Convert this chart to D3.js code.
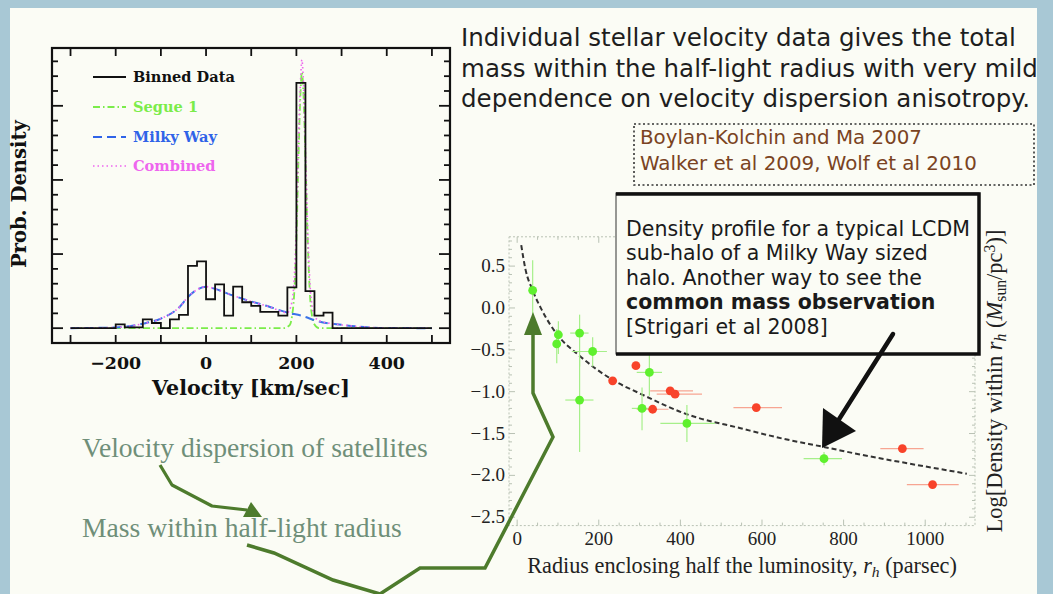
<!DOCTYPE html>
<html><head><meta charset="utf-8">
<script src="https://cdn.jsdelivr.net/npm/d3@7"></script>
<style>html,body{margin:0;padding:0;background:#a8c8d5;overflow:hidden}svg{display:block}</style>
</head><body><svg id="c" width="1053" height="594"></svg>
<script>
// ---------- DATA: left panel (velocity histogram) ----------
const velTicks = [-200, 0, 200, 400];
const velTickLabels = ["\u2212200", "0", "200", "400"];
const binWidth = 20;
const binLefts = [-200,-180,-160,-140,-120,-100,-80,-60,-40,-20,0,20,40,60,80,100,120,140,160,180,200,220,240,260];
const binHeights = [0.05,0.01,0.01,0.12,0.07,0,0.12,0.18,0.84,0.90,0.39,0.59,0.17,0.56,0.35,0.30,0.22,0.22,0.17,0.55,3.31,0.50,0.17,0.21];
const mwVel  = [-300,-200,-140,-100,-58,-40,-17,0,20,60,100,140,180,210,250,300,350,400,500];
const mwDens = [0,0.01,0.06,0.13,0.29,0.42,0.53,0.56,0.53,0.44,0.36,0.29,0.21,0.17,0.09,0.045,0.015,0.003,0];
const segVel  = [-300,170,185,190,195,200,205,210,212,215,220,225,230,235,240,250,500];
const segDens = [0,0,0.04,0.15,0.45,1.2,2.4,3.3,3.45,3.25,2.3,1.2,0.45,0.15,0.05,0.0,0];
const combVel  = [-300,-200,-140,-100,-58,-40,-17,0,20,60,100,140,180,190,195,200,205,210,212,215,220,225,230,235,240,250,300,350,400,500];
const combDens = [0,0.01,0.06,0.13,0.29,0.42,0.53,0.56,0.53,0.44,0.36,0.29,0.21,0.35,0.65,1.4,2.6,3.45,3.62,3.4,2.45,1.33,0.6,0.28,0.17,0.10,0.045,0.015,0.003,0];
const legendLabels = ["Binned Data", "Segue 1", "Milky Way", "Combined"];

// ---------- DATA: right panel (density vs radius) ----------
const rTicks = [0, 200, 400, 600, 800, 1000];
const logTicks = [0.5, 0.0, -0.5, -1.0, -1.5, -2.0, -2.5];
const greenR      = [38, 101, 97, 153, 185, 153, 324, 306, 416, 752];
const greenLog    = [0.21, -0.32, -0.43, -0.30, -0.52, -1.10, -0.77, -1.20, -1.38, -1.80];
const greenRLo    = [33, 92, 88, 130, 134, 118, 293, 281, 351, 702];
const greenRHi    = [43, 110, 106, 175, 220, 187, 355, 330, 485, 796];
const greenLogLo  = [-0.10, -0.55, -0.66, -0.70, -0.70, -1.72, -1.05, -1.46, -1.60, -1.88];
const greenLogHi  = [0.57, -0.16, -0.25, -0.08, -0.35, -0.60, -0.50, -0.95, -1.16, -1.72];
const redR        = [234, 291, 375, 387, 332, 586, 944, 1018];
const redLog      = [-0.87, -0.69, -0.99, -1.03, -1.21, -1.19, -1.68, -2.11];
const redRLo      = [225, 282, 326, 342, 293, 530, 890, 955];
const redRHi      = [245, 300, 431, 453, 371, 649, 996, 1082];
const redLogLo    = [-0.90, -0.72, -1.02, -1.06, -1.24, -1.22, -1.71, -2.14];
const redLogHi    = [-0.84, -0.66, -0.96, -1.00, -1.18, -1.16, -1.65, -2.08];
const profileR    = [10, 20, 38, 60, 100, 150, 234, 300, 416, 550, 650, 751, 850, 950, 1102];
const profileLog  = [0.75, 0.47, 0.21, -0.02, -0.33, -0.56, -0.86, -1.02, -1.27, -1.44, -1.56, -1.66, -1.76, -1.85, -1.98];

// ---------- TEXT ----------
const titleLines = ["Individual stellar velocity data gives the total",
  "mass within the half-light radius with very mild",
  "dependence on velocity dispersion anisotropy."];
const citeLines = ["Boylan-Kolchin and Ma 2007", "Walker et al 2009, Wolf et al 2010"];
const boxLines = ["Density profile for a typical LCDM", "sub-halo of a Milky Way sized",
  "halo. Another way to see the", "common mass observation", "[Strigari et al 2008]"];
const noteLines = ["Velocity dispersion of satellites", "Mass within half-light radius"];

const svg = d3.select("#c");
function fit(sel, w) { sel.attr("font-size", 100); const L = sel.node().getComputedTextLength(); const fs = 100 * w / L; sel.attr("font-size", fs); return fs; }

// background card
svg.append("rect").attr("x", 0).attr("y", 0).attr("width", 1053).attr("height", 594).attr("fill", "#a8c8d5");
svg.append("rect").attr("x", 10).attr("y", 8).attr("width", 1027).attr("height", 600).attr("fill", "#fbfcf5");

// ================= LEFT PANEL =================
const xL = d3.scaleLinear().domain([-341, 540]).range([52, 450]);
const yL = d3.scaleLinear().domain([-0.2, 3.78]).range([343, 48]);
const gL = svg.append("g");
const lineL = d3.line().x(d => xL(d[0])).y(d => yL(d[1]));
const smoothL = d3.line().x(d => xL(d[0])).y(d => yL(d[1])).curve(d3.curveMonotoneX);

gL.append("path").attr("d", smoothL(segVel.map((v, i) => [v, segDens[i]])))
  .attr("fill", "none").attr("stroke", "#7bec4a").attr("stroke-width", 1.8).attr("stroke-dasharray", "7,3,1.5,3");
gL.append("path").attr("d", smoothL(mwVel.map((v, i) => [v, mwDens[i]])))
  .attr("fill", "none").attr("stroke", "#3a73e8").attr("stroke-width", 2).attr("stroke-dasharray", "9,5");
gL.append("path").attr("d", smoothL(combVel.map((v, i) => [v, combDens[i]])))
  .attr("fill", "none").attr("stroke", "#ee66ee").attr("stroke-width", 1.6).attr("stroke-dasharray", "1.5,3");
const stepPts = [[-300, 0], [binLefts[0], 0]];
binLefts.forEach((l, i) => { stepPts.push([l, binHeights[i]], [l + binWidth, binHeights[i]]); });
stepPts.push([binLefts[binLefts.length - 1] + binWidth, 0], [500, 0]);
gL.append("path").attr("d", lineL(stepPts)).attr("fill", "none").attr("stroke", "#111").attr("stroke-width", 1.8);

// frame + ticks
gL.append("rect").attr("x", 52).attr("y", 48).attr("width", 398).attr("height", 295)
  .attr("fill", "none").attr("stroke", "#111").attr("stroke-width", 2.2);
const xTicksAll = d3.range(-300, 501, 100);
xTicksAll.forEach(v => {
  gL.append("line").attr("x1", xL(v)).attr("x2", xL(v)).attr("y1", 48).attr("y2", 56).attr("stroke", "#111").attr("stroke-width", 1.8);
  gL.append("line").attr("x1", xL(v)).attr("x2", xL(v)).attr("y1", 343).attr("y2", 335).attr("stroke", "#111").attr("stroke-width", 1.8);
});
d3.range(0, 3.78, 0.2).forEach(d => {
  const major = Math.abs(d - Math.round(d)) < 1e-6;
  const len = major ? 11 : 6;
  gL.append("line").attr("x1", 52).attr("x2", 52 + len).attr("y1", yL(d)).attr("y2", yL(d)).attr("stroke", "#111").attr("stroke-width", 1.8);
  gL.append("line").attr("x1", 450).attr("x2", 450 - len).attr("y1", yL(d)).attr("y2", yL(d)).attr("stroke", "#111").attr("stroke-width", 1.8);
});
const pgFont = "DejaVu Serif";
let tfs = null;
velTicks.forEach((v, i) => {
  const t = gL.append("text").attr("x", xL(v)).attr("y", 369).attr("text-anchor", "middle")
    .attr("font-family", pgFont).attr("font-weight", "bold").attr("fill", "#111").text(velTickLabels[i]);
  if (i === 0) tfs = fit(t, 51); else t.attr("font-size", tfs);
});
fit(gL.append("text").attr("x", 251).attr("y", 395).attr("text-anchor", "middle")
  .attr("font-family", pgFont).attr("font-weight", "bold").attr("fill", "#111").text("Velocity [km/sec]"), 198);
fit(gL.append("text").attr("transform", "translate(26,194) rotate(-90)").attr("text-anchor", "middle")
  .attr("font-family", pgFont).attr("font-weight", "bold").attr("fill", "#111").text("Prob. Density"), 148);

// legend
const legColors = ["#111", "#7bec4a", "#2f63e8", "#ee66ee"];
const legDash = [null, "7,3,1.5,3", "9,5", "1.5,3"];
const legY = [77, 107, 137, 166];
let lfs = null;
legendLabels.forEach((lab, i) => {
  const ln = gL.append("line").attr("x1", 93).attr("x2", 126).attr("y1", legY[i]).attr("y2", legY[i])
    .attr("stroke", legColors[i]).attr("stroke-width", i === 3 ? 1.6 : 1.8);
  if (legDash[i]) ln.attr("stroke-dasharray", legDash[i]);
  const t = gL.append("text").attr("x", 133).attr("y", legY[i] + 5).attr("font-family", pgFont)
    .attr("font-weight", "bold").attr("fill", legColors[i]).text(lab);
  if (i === 0) lfs = fit(t, 102); else t.attr("font-size", lfs);
});

// ================= RIGHT PANEL =================
const xR = d3.scaleLinear().domain([-20, 1122]).range([509, 975]);
const yR = d3.scaleLinear().domain([-2.6, 0.85]).range([525.6, 236.8]);
const gR = svg.append("g");
gR.append("rect").attr("x", 509).attr("y", 236.8).attr("width", 466).attr("height", 288.8)
  .attr("fill", "none").attr("stroke", "#b9c2b4").attr("stroke-width", 1).attr("stroke-dasharray", "2,2");
d3.range(0, 1101, 50).forEach(v => {
  const len = v % 200 === 0 ? 6 : 3;
  gR.append("line").attr("x1", xR(v)).attr("x2", xR(v)).attr("y1", 525.6).attr("y2", 525.6 - len).attr("stroke", "#b9c2b4");
  gR.append("line").attr("x1", xR(v)).attr("x2", xR(v)).attr("y1", 236.8).attr("y2", 236.8 + len).attr("stroke", "#b9c2b4");
});
d3.range(-25, 9, 1).forEach(k => {
  const v = k / 10; const len = k % 5 === 0 ? 6 : 3;
  gR.append("line").attr("x1", 509).attr("x2", 509 + len).attr("y1", yR(v)).attr("y2", yR(v)).attr("stroke", "#b9c2b4");
  gR.append("line").attr("x1", 975).attr("x2", 975 - len).attr("y1", yR(v)).attr("y2", yR(v)).attr("stroke", "#b9c2b4");
});
const tnr = "Liberation Serif";
let rfs = null;
rTicks.forEach((v, i) => {
  const t = gR.append("text").attr("x", xR(v)).attr("y", 545).attr("text-anchor", "middle").attr("font-family", tnr).attr("fill", "#222").text(String(v));
  if (i === 5) { rfs = fit(t, 38); }
});
gR.selectAll("text").attr("font-size", rfs);
logTicks.forEach(v => {
  gR.append("text").attr("x", 505).attr("y", yR(v) + 6).attr("text-anchor", "end").attr("font-family", tnr)
    .attr("font-size", rfs).attr("fill", "#222").text(v.toFixed(1).replace("-", "\u2212"));
});
// x label
const xl = gR.append("text").attr("x", 742).attr("y", 573).attr("text-anchor", "middle").attr("font-family", tnr).attr("fill", "#222");
xl.append("tspan").text("Radius enclosing half the luminosity, ");
xl.append("tspan").attr("font-style", "italic").text("r");
xl.append("tspan").attr("font-style", "italic").attr("font-size", "70%").attr("dy", "0.25em").text("h");
xl.append("tspan").attr("dy", "-0.18em").text(" (parsec)");
fit(xl, 430);
// y label (right)
const yl = gR.append("text").attr("transform", "translate(1002,381) rotate(-90)").attr("text-anchor", "middle").attr("font-family", tnr).attr("fill", "#222");
yl.append("tspan").text("Log[Density within ");
yl.append("tspan").attr("font-style", "italic").text("r");
yl.append("tspan").attr("font-style", "italic").attr("font-size", "70%").attr("dy", "0.25em").text("h");
yl.append("tspan").attr("dy", "-0.18em").text(" (");
yl.append("tspan").attr("font-style", "italic").text("M");
yl.append("tspan").attr("font-size", "70%").attr("dy", "0.25em").text("sun");
yl.append("tspan").attr("dy", "-0.18em").text("/pc");
yl.append("tspan").attr("font-size", "70%").attr("dy", "-0.45em").text("3");
yl.append("tspan").attr("dy", "0.32em").text(")]");
fit(yl, 303);

// profile curve
gR.append("path").attr("d", d3.line().x((d, i) => xR(d)).y((d, i) => yR(profileLog[i])).curve(d3.curveMonotoneX)(profileR))
  .attr("fill", "none").attr("stroke", "#333").attr("stroke-width", 2).attr("stroke-dasharray", "5,3");
function errs(R, L, RLo, RHi, LLo, LHi, col) {
  R.forEach((r, i) => {
    gR.append("line").attr("x1", xR(RLo[i])).attr("x2", xR(RHi[i])).attr("y1", yR(L[i])).attr("y2", yR(L[i])).attr("stroke", col).attr("stroke-width", 1.2);
    gR.append("line").attr("x1", xR(r)).attr("x2", xR(r)).attr("y1", yR(LLo[i])).attr("y2", yR(LHi[i])).attr("stroke", col).attr("stroke-width", 1.2);
  });
}
errs(greenR, greenLog, greenRLo, greenRHi, greenLogLo, greenLogHi, "#a6ef8a");
errs(redR, redLog, redRLo, redRHi, redLogLo, redLogHi, "#f7a592");
gR.selectAll("circle.g").data(greenR).join("circle").attr("class", "g").attr("cx", d => xR(d)).attr("cy", (d, i) => yR(greenLog[i])).attr("r", 4.4).attr("fill", "#5ff02e");
gR.selectAll("circle.r").data(redR).join("circle").attr("class", "r").attr("cx", d => xR(d)).attr("cy", (d, i) => yR(redLog[i])).attr("r", 4.4).attr("fill", "#f8432a");

// ================= ANNOTATIONS =================
// text box
svg.append("rect").attr("x", 616).attr("y", 193).attr("width", 363).attr("height", 161).attr("fill", "#fbfcf5").attr("stroke", "#333").attr("stroke-width", 1);
svg.append("path").attr("d", "M616,194 H979 V354 H616").attr("fill", "none").attr("stroke", "#111").attr("stroke-width", 3.5);
let bfs = null;
boxLines.forEach((s, i) => {
  const t = svg.append("text").attr("x", 626).attr("y", 236 + i * 24.4).attr("font-family", "DejaVu Sans").attr("fill", "#1a1a1a").text(s);
  if (i === 3) t.attr("font-weight", "bold");
  if (i === 0) bfs = fit(t, 344); else t.attr("font-size", bfs);
});
// black arrow
svg.append("line").attr("x1", 893).attr("y1", 334).attr("x2", 836).attr("y2", 424).attr("stroke", "#111").attr("stroke-width", 4.5).attr("stroke-linecap", "round");
svg.append("polygon").attr("points", "822,448 823,408 856,431").attr("fill", "#111");

// title
let tfs2 = null;
titleLines.forEach((s, i) => {
  const t = svg.append("text").attr("x", 461).attr("y", 46 + i * 30.5).attr("font-family", "DejaVu Sans").attr("fill", "#1e1e1e").text(s);
  if (i === 0) tfs2 = fit(t, 555); else t.attr("font-size", tfs2);
});
// citation box
svg.append("rect").attr("x", 634).attr("y", 124).attr("width", 400).attr("height", 61).attr("fill", "none")
  .attr("stroke", "#333").attr("stroke-width", 1.6).attr("stroke-dasharray", "2,2.5");
let cfs = null;
[1, 0].forEach(i => {
  const t = svg.append("text").attr("x", 640).attr("y", 144 + i * 26).attr("font-family", "DejaVu Sans").attr("fill", "#7a4322").text(citeLines[i]);
  if (i === 1) cfs = fit(t, 337); else t.attr("font-size", cfs);
});

// green notes
let nfs = null;
noteLines.forEach((s, i) => {
  const t = svg.append("text").attr("x", 82).attr("y", 457 + i * 80).attr("font-family", "Liberation Serif").attr("fill", "#6f8f79").text(s);
  if (i === 0) nfs = fit(t, 346); else t.attr("font-size", nfs);
});
const ag = "#4d7b2c";
const arrowLine = d3.line();
svg.append("path").attr("d", arrowLine([[160, 465], [172, 485], [212, 506], [247, 510]]))
  .attr("fill", "none").attr("stroke", ag).attr("stroke-width", 3.2).attr("stroke-linejoin", "round");
svg.append("polygon").attr("points", "243,517 251,502 262,517").attr("fill", ag);
svg.append("path").attr("d", arrowLine([[247, 545], [274, 553], [333, 580], [380, 594], [420, 568], [485, 568], [553, 437], [533, 393], [533, 330]]))
  .attr("fill", "none").attr("stroke", ag).attr("stroke-width", 3.5).attr("stroke-linejoin", "miter");
svg.append("polygon").attr("points", "533,312 524,335 542,335").attr("fill", ag);
</script></body></html>
